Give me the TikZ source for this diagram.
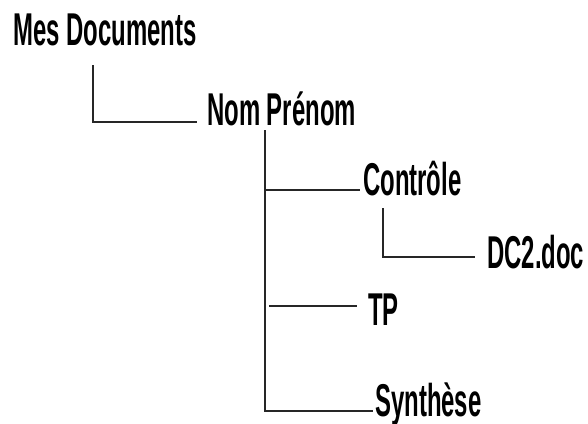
\documentclass[tikz,border=0pt]{standalone}
\usepackage{fontspec}
\newfontfamily\arbrefont[FakeStretch=0.52]{Liberation Sans}
\usepackage{tikz}
\usetikzlibrary{positioning}

\begin{document}
\begin{tikzpicture}[x=1pt, y=-1pt,
        dossier/.style={anchor=base west, inner sep=0pt,
                        font=\arbrefont\bfseries\fontsize{46}{50}\selectfont},
        lien/.style={line width=1.7pt, black!85}]
        \useasboundingbox (0,0) rectangle (588,423);
        % Dossiers
        \node[dossier] (mes) at (13,45) {Mes Documents};
        \node[dossier] (nom) at (207,125) {Nom Prénom};
        \node[dossier] (ctrl) at (363,195) {Contrôle};
        \node[dossier] (dc2) at (487,268) {DC2.doc};
        \node[dossier] (tp) at (368,325) {TP};
        \node[dossier] (syn) at (375,416) {Synthèse};
        % Points d'attache
        \coordinate (tronc) at ([xshift=58pt,yshift=-5pt]nom.base west);
        \coordinate (ctrl-in) at ([xshift=-3pt,yshift=5pt]ctrl.base west);
        \coordinate (tp-in) at ([xshift=-11pt,yshift=19pt]tp.base west);
        % Liens
        \draw[lien] ([xshift=80pt,yshift=-20pt]mes.base west)
          |- ([xshift=-10pt,yshift=3pt]nom.base west);
        \draw[lien] (tronc) |- ([xshift=-2pt,yshift=5pt]syn.base west);
        \draw[lien] (tronc |- ctrl-in) -- (ctrl-in);
        \draw[lien] (tronc |- tp-in) ++(4pt,0) -- (tp-in);
        \draw[lien] ([xshift=20pt,yshift=-13pt]ctrl.base west)
          |- ([xshift=-12pt,yshift=11pt]dc2.base west);
\end{tikzpicture}
\end{document}
